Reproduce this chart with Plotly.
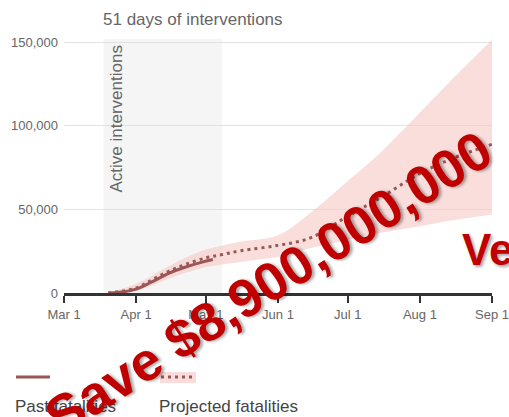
import plotly.graph_objects as go

# ---- data ----
past_dates = ["2020-03-20", "2020-03-25", "2020-04-01", "2020-04-08", "2020-04-15",
              "2020-04-22", "2020-04-29", "2020-05-04"]
past_vals = [0, 400, 2300, 6800, 11800, 15400, 18300, 20000]

proj_dates = ["2020-03-20", "2020-04-01", "2020-04-08", "2020-04-15", "2020-04-22",
              "2020-05-01", "2020-05-08", "2020-05-16", "2020-06-01", "2020-06-15",
              "2020-07-01", "2020-07-15", "2020-08-01", "2020-08-15", "2020-09-01"]
proj_vals = [0, 3000, 8000, 13000, 17000, 21000, 23000, 25300, 28500, 33000,
             46000, 57000, 71500, 80500, 89000]
band_upper = [0, 5500, 10500, 16000, 21000, 26000, 28500, 30700, 34500, 48000,
              67000, 84000, 108000, 128000, 151500]
band_lower = [0, 1000, 4500, 8500, 12000, 15500, 17000, 18500, 21500, 27000,
              32000, 36000, 40000, 43500, 47000]

interv_start = "2020-03-18"
interv_end = "2020-05-08"

x_tickvals = ["2020-03-01", "2020-04-01", "2020-05-01", "2020-06-01",
              "2020-07-01", "2020-08-01", "2020-09-01"]
x_ticktext = ["Mar 1", "Apr 1", "May 1", "Jun 1", "Jul 1", "Aug 1", "Sep 1"]
y_tickvals = [0, 50000, 100000, 150000]
y_ticktext = ["0", "50,000", "100,000", "150,000"]

FONT = "Liberation Sans, Arial, sans-serif"
LINE_C = "#9b5656"
BAND_C = "rgba(245,200,196,0.6)"

W, H = 509, 417
L, R, T, B = 64, 17, 39, 124
PW, PH = W - L - R, H - T - B


def px(xp):
    return (xp - L) / PW


def py(yp):
    return (H - B - yp) / PH


fig = go.Figure()
fig.add_trace(go.Scatter(x=proj_dates, y=band_lower, mode="lines",
                         line=dict(width=0), hoverinfo="skip", showlegend=False))
fig.add_trace(go.Scatter(x=proj_dates, y=band_upper, mode="lines", fill="tonexty",
                         fillcolor=BAND_C, line=dict(width=0, shape="spline"),
                         hoverinfo="skip", showlegend=False))
fig.add_trace(go.Scatter(x=past_dates, y=past_vals, mode="lines",
                         line=dict(color=LINE_C, width=3, shape="spline"),
                         showlegend=False))
fig.add_trace(go.Scatter(x=proj_dates, y=proj_vals, mode="lines",
                         line=dict(color=LINE_C, width=3, dash="3px,4px", shape="spline"),
                         showlegend=False))

fig.add_shape(type="rect", xref="x", yref="paper", x0=interv_start, x1=interv_end,
              y0=0, y1=1, fillcolor="#f5f5f5", line=dict(width=0), layer="between")

# legend samples
fig.add_shape(type="line", xref="paper", yref="paper", x0=px(16), x1=px(50),
              y0=py(377), y1=py(377), line=dict(color=LINE_C, width=3))
fig.add_shape(type="rect", xref="paper", yref="paper", x0=px(160), x1=px(196),
              y0=py(383), y1=py(372), fillcolor="#fadcdc", line=dict(width=0))
fig.add_shape(type="line", xref="paper", yref="paper", x0=px(161), x1=px(195),
              y0=py(377), y1=py(377), line=dict(color=LINE_C, width=3, dash="3px,4px"))

ann = []
ann.append(dict(text="51 days of interventions", xref="x", yref="paper",
                x=interv_start, y=py(20), xanchor="left", yanchor="middle", xshift=-3,
                showarrow=False, font=dict(size=17, color="#666", family=FONT)))
ann.append(dict(text="Active interventions", xref="paper", yref="paper",
                x=px(116), y=py(44), xanchor="center", yanchor="top", textangle=-90,
                showarrow=False, font=dict(size=17, color="#666", family=FONT)))
ann.append(dict(text="Past fatalities", xref="paper", yref="paper",
                x=px(13), y=py(406), xanchor="left", yanchor="middle",
                showarrow=False, font=dict(size=17, color="#444", family=FONT)))
ann.append(dict(text="Projected fatalities", xref="paper", yref="paper",
                x=px(157), y=py(406), xanchor="left", yanchor="middle",
                showarrow=False, font=dict(size=17, color="#444", family=FONT)))
ann.append(dict(text="<b>Save $8,900,000,000</b>", xref="paper", yref="paper",
                x=px(268), y=py(283), xanchor="center", yanchor="middle", textangle=-32.5,
                showarrow=False,
                font=dict(size=54, color="#c00000", family=FONT,
                          shadow="2px 2px 3px rgba(0,0,0,0.35)")))
ann.append(dict(text="<b>Ve</b>", xref="paper", yref="paper",
                x=px(460), y=py(249), xanchor="left", yanchor="middle",
                showarrow=False,
                font=dict(size=44, color="#c00000", family=FONT,
                          shadow="2px 2px 3px rgba(0,0,0,0.35)")))

fig.update_layout(
    width=W, height=H,
    margin=dict(l=L, r=R, t=T, b=B, autoexpand=False),
    paper_bgcolor="white", plot_bgcolor="white",
    font=dict(family=FONT),
    annotations=ann,
    xaxis=dict(range=["2020-03-01", "2020-09-01"], tickvals=x_tickvals,
               ticktext=x_ticktext, showgrid=False, zeroline=False, automargin=False,
               showline=True, linecolor="#333", linewidth=3,
               ticks="outside", ticklen=7, tickwidth=2, tickcolor="#333",
               tickfont=dict(size=13, color="#666")),
    yaxis=dict(range=[0, 152000], tickvals=y_tickvals, ticktext=y_ticktext,
               showgrid=True, gridcolor="#e2e2e2", gridwidth=1, zeroline=False,
               showline=False, ticks="", ticklabelstandoff=5, automargin=False,
               tickfont=dict(size=13, color="#666")),
)

fig.write_html("out.html",
               config={"displayModeBar": False},
               post_script="document.body.style.margin='0px';"
                           "document.body.style.overflow='hidden';")
